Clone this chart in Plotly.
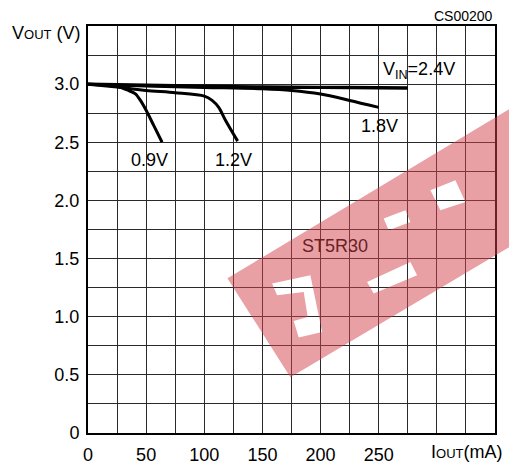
import plotly.graph_objects as go

# ---------------- data ----------------
I_24 = [0, 50, 100, 150, 200, 250, 275]
V_24 = [3.0, 2.99, 2.982, 2.976, 2.972, 2.969, 2.967]

I_18 = [0, 50, 100, 150, 175, 200, 225, 250]
V_18 = [3.0, 2.985, 2.972, 2.96, 2.946, 2.915, 2.86, 2.80]

I_12 = [0, 25, 50, 75, 100, 106.7, 112.4, 118.2, 128.7]
V_12 = [3.0, 2.975, 2.946, 2.926, 2.897, 2.86, 2.80, 2.69, 2.51]

I_09 = [0, 25, 35, 40.8, 45.1, 50, 56.5, 63.7]
V_09 = [3.0, 2.98, 2.945, 2.917, 2.86, 2.775, 2.645, 2.50]

X_TICK_LABELS = [0, 50, 100, 150, 200, 250]
Y_TICK_LABELS = ["0", "0.5", "1.0", "1.5", "2.0", "2.5", "3.0"]
Y_TICK_VALUES = [0, 0.5, 1.0, 1.5, 2.0, 2.5, 3.0]

CURVE_LABELS = ["0.9V", "1.2V", "1.8V"]
CURVE_LABEL_X = [52.6, 125, 250.4]
CURVE_LABEL_Y = [2.35, 2.35, 2.641]

X_MAX, Y_MAX = 350, 3.5
X_GRID, Y_GRID = 25, 0.25

FONT = "Liberation Sans"
FS = 18
GRID_COLOR = "#2a2a2a"

fig = go.Figure()
for xs, ys, w in [(I_24, V_24, 3.4), (I_18, V_18, 3), (I_12, V_12, 3), (I_09, V_09, 3)]:
    fig.add_trace(go.Scatter(x=xs, y=ys, mode="lines",
                             line=dict(color="black", width=w, shape="spline", smoothing=0.8),
                             showlegend=False, hoverinfo="skip"))

x_grid_vals = [i * X_GRID for i in range(int(X_MAX / X_GRID) + 1)]
y_grid_vals = [round(i * Y_GRID, 2) for i in range(int(Y_MAX / Y_GRID) + 1)]

fig.update_xaxes(range=[0, X_MAX], tickmode="array", tickvals=X_TICK_LABELS,
                 ticktext=[str(v) for v in X_TICK_LABELS], automargin=False,
                 showgrid=True, gridcolor=GRID_COLOR, gridwidth=1.2, zeroline=False,
                 minor=dict(tickmode="array", tickvals=x_grid_vals, showgrid=True,
                            gridcolor=GRID_COLOR, gridwidth=1.2, ticks=""),
                 showline=True, linecolor="black", linewidth=2, mirror=True, ticks="",
                 ticklabelstandoff=4, tickfont=dict(family=FONT, size=FS, color="black"))
fig.update_yaxes(range=[0, Y_MAX], tickmode="array", tickvals=Y_TICK_VALUES, ticktext=Y_TICK_LABELS,
                 automargin=False,
                 showgrid=True, gridcolor=GRID_COLOR, gridwidth=1.2, zeroline=False,
                 minor=dict(tickmode="array", tickvals=y_grid_vals, showgrid=True,
                            gridcolor=GRID_COLOR, gridwidth=1.2, ticks=""),
                 showline=True, linecolor="black", linewidth=2, mirror=True, ticks="",
                 ticklabelstandoff=3, tickfont=dict(family=FONT, size=FS, color="black"))

ann = []
for t, x, y in zip(CURVE_LABELS, CURVE_LABEL_X, CURVE_LABEL_Y):
    ann.append(dict(x=x, y=y, xref="x", yref="y", text=t, showarrow=False,
                    xanchor="center", yanchor="middle", font=dict(family=FONT, size=FS, color="black")))
ann.append(dict(x=252.3, y=3.118, xref="x", yref="y", text="V<sub>IN</sub>=2.4V", showarrow=False,
                xanchor="left", yanchor="middle", font=dict(family=FONT, size=FS, color="black")))
ann.append(dict(x=212.1, y=1.606, xref="x", yref="y", text="ST5R30", showarrow=False,
                xanchor="center", yanchor="middle", font=dict(family=FONT, size=FS, color="#6a1f26")))
ann.append(dict(x=1.0, y=1.0236, xref="paper", yref="paper", text="CS00200", showarrow=False,
                xanchor="right", yanchor="middle", font=dict(family=FONT, size=14, color="black")))
ann.append(dict(x=-0.0138, y=0.982, xref="paper", yref="paper",
                text="V<span style='font-size:13px'>OUT</span> (V)", showarrow=False,
                xanchor="right", yanchor="middle", font=dict(family=FONT, size=FS, color="black")))
ann.append(dict(x=0.837, y=-0.046, xref="paper", yref="paper",
                text="I<span style='font-size:13px'>OUT</span>(mA)", showarrow=False,
                xanchor="left", yanchor="middle", font=dict(family=FONT, size=FS, color="black")))

# ---------------- watermark overlay (pixel outline -> paper coords) ----------------
PX0, PY0, PW, PH = 87.6, 432.7, 407.0, 407.0
def to_paper(pts):
    return [((px - PX0) / PW, (PY0 - py) / PH) for px, py in pts]

BAND = [(227, 278), (517, 104), (517, 242), (290, 377)]
HOLES = [
    [(271.7, 283.3), (276.7, 295), (303.3, 291.7), (307.3, 316.7), (293.3, 320.7), (298.3, 337.3), (321.7, 331.7), (310, 275)],
    [(383.3, 218.3), (388.3, 230), (410, 221.7), (405, 210)],
    [(366.7, 281.7), (373.3, 293.3), (416.7, 275), (410, 261.7)],
    [(430, 190), (440, 210), (465, 201.7), (455, 180)],
]
def sub(pts):
    p = to_paper(pts)
    return "M" + " L".join(f"{x:.4f},{y:.4f}" for x, y in p) + " Z"
path = sub(BAND) + " " + " ".join(sub(h) for h in HOLES)

# page body has an 8px default margin: size/margins compensate so the plot sits where the reference's does
fig.update_layout(
    width=509, height=458,
    margin=dict(l=80, r=22, t=18, b=33),
    paper_bgcolor="white", plot_bgcolor="white",
    annotations=ann,
    shapes=[dict(type="path", path=path, xref="paper", yref="paper", layer="above",
                 fillcolor="rgba(209,65,75,0.5)", line=dict(width=0))],
)

fig.write_html("out.html")
